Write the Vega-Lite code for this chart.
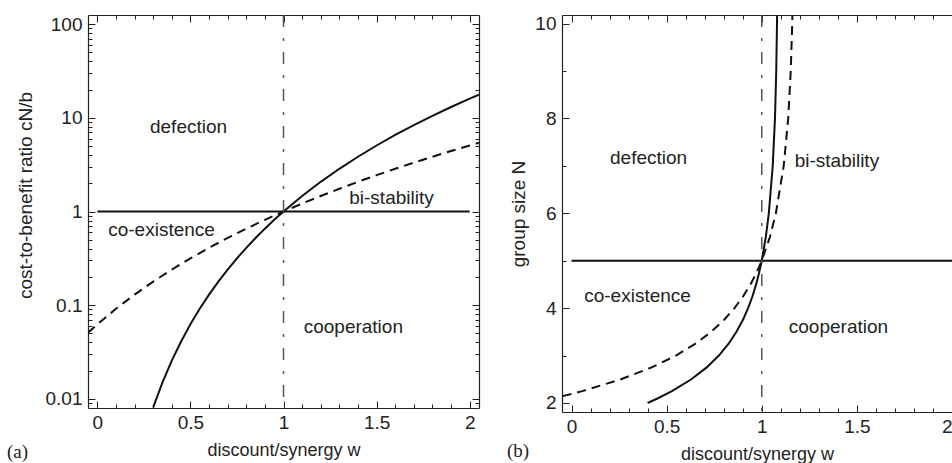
{
  "$schema": "https://vega.github.io/schema/vega-lite/v6.json",
  "padding": {"left": 7, "top": 14, "right": 0, "bottom": 0},
  "spacing": 27,
  "config": {
    "view": {"stroke": null},
    "font": "Liberation Sans",
    "axis": {"grid": false, "labelFont": "Liberation Sans", "labelFontSize": 19, "titleFont": "Liberation Sans", "titleFontSize": 18, "titleFontWeight": "normal", "labelColor": "#222", "titleColor": "#222", "tickColor": "#222", "domainColor": "#222", "domainWidth": 1.2, "tickWidth": 1}
  },
  "datasets": {
    "a_solid": [
      {"w": 0.3, "r": 0.0081}, {"w": 0.35, "r": 0.015}, {"w": 0.4, "r": 0.0256}, {"w": 0.45, "r": 0.041}, {"w": 0.5, "r": 0.0625}, {"w": 0.55, "r": 0.0915}, {"w": 0.6, "r": 0.1296}, {"w": 0.65, "r": 0.1785}, {"w": 0.7, "r": 0.2401}, {"w": 0.75, "r": 0.3164}, {"w": 0.8, "r": 0.4096}, {"w": 0.85, "r": 0.522}, {"w": 0.9, "r": 0.6561}, {"w": 0.95, "r": 0.8145}, {"w": 1.0, "r": 1}, {"w": 1.1, "r": 1.4641}, {"w": 1.2, "r": 2.0736}, {"w": 1.3, "r": 2.8561}, {"w": 1.4, "r": 3.8416}, {"w": 1.5, "r": 5.0625}, {"w": 1.6, "r": 6.5536}, {"w": 1.7, "r": 8.3521}, {"w": 1.8, "r": 10.4976}, {"w": 1.9, "r": 13.0321}, {"w": 2.0, "r": 16}, {"w": 2.05, "r": 17.66}
    ],
    "a_dashed": [
      {"w": -0.05, "r": 0.0509}, {"w": 0, "r": 0.0625}, {"w": 0.1, "r": 0.0915}, {"w": 0.2, "r": 0.1296}, {"w": 0.3, "r": 0.1785}, {"w": 0.4, "r": 0.2401}, {"w": 0.5, "r": 0.3164}, {"w": 0.6, "r": 0.4096}, {"w": 0.7, "r": 0.522}, {"w": 0.8, "r": 0.6561}, {"w": 0.9, "r": 0.8145}, {"w": 1.0, "r": 1}, {"w": 1.1, "r": 1.2155}, {"w": 1.2, "r": 1.4641}, {"w": 1.3, "r": 1.749}, {"w": 1.4, "r": 2.0736}, {"w": 1.5, "r": 2.4414}, {"w": 1.6, "r": 2.8561}, {"w": 1.7, "r": 3.3215}, {"w": 1.8, "r": 3.8416}, {"w": 1.9, "r": 4.4205}, {"w": 2.0, "r": 5.0625}, {"w": 2.05, "r": 5.4086}
    ],
    "a_hline": [{"w": 0, "w2": 2, "r": 1}],
    "a_vline": [{"w": 1}],
    "a_text": [
      {"w": 0.49, "r": 8.0, "label": "defection"},
      {"w": 1.58, "r": 1.41, "label": "bi-stability"},
      {"w": 0.345, "r": 0.64, "label": "co-existence"},
      {"w": 1.375, "r": 0.058, "label": "cooperation"}
    ],
    "b_solid": [
      {"N": 2, "w": 0.4}, {"N": 2.1, "w": 0.4544}, {"N": 2.25, "w": 0.5279}, {"N": 2.5, "w": 0.63}, {"N": 2.75, "w": 0.7106}, {"N": 3, "w": 0.7746}, {"N": 3.25, "w": 0.8257}, {"N": 3.5, "w": 0.867}, {"N": 3.75, "w": 0.9007}, {"N": 4, "w": 0.9283}, {"N": 4.25, "w": 0.9512}, {"N": 4.5, "w": 0.9703}, {"N": 4.75, "w": 0.9864}, {"N": 5, "w": 1}, {"N": 5.5, "w": 1.0214}, {"N": 6, "w": 1.0371}, {"N": 7, "w": 1.0577}, {"N": 8, "w": 1.0695}, {"N": 9, "w": 1.0762}, {"N": 10, "w": 1.0801}, {"N": 10.2, "w": 1.0806}
    ],
    "b_dashed": [
      {"N": 2, "w": -0.2}, {"N": 2.1, "w": -0.0912}, {"N": 2.2, "w": 0.009}, {"N": 2.25, "w": 0.0558}, {"N": 2.5, "w": 0.26}, {"N": 2.75, "w": 0.4212}, {"N": 3, "w": 0.5492}, {"N": 3.25, "w": 0.6514}, {"N": 3.5, "w": 0.734}, {"N": 3.75, "w": 0.8014}, {"N": 4, "w": 0.8566}, {"N": 4.25, "w": 0.9024}, {"N": 4.5, "w": 0.9406}, {"N": 4.75, "w": 0.9728}, {"N": 5, "w": 1}, {"N": 5.5, "w": 1.0428}, {"N": 6, "w": 1.0742}, {"N": 7, "w": 1.1154}, {"N": 8, "w": 1.139}, {"N": 9, "w": 1.1524}, {"N": 10, "w": 1.1602}, {"N": 10.2, "w": 1.1612}
    ],
    "b_hline": [{"w": 0, "w2": 2.05, "N": 5}],
    "b_vline": [{"w": 1}],
    "b_text": [
      {"w": 0.405, "N": 7.17, "label": "defection"},
      {"w": 1.395, "N": 7.1, "label": "bi-stability"},
      {"w": 0.347, "N": 4.26, "label": "co-existence"},
      {"w": 1.403, "N": 3.6, "label": "cooperation"}
    ]
  },
  "hconcat": [
    {
      "width": 391,
      "height": 393,
      "title": {"text": "(a)", "orient": "bottom", "anchor": "start", "frame": "group", "dx": -81, "offset": -16, "font": "Liberation Serif", "fontSize": 19, "fontWeight": "normal", "color": "#222"},
      "resolve": {"axis": {"x": "independent", "y": "independent"}},
      "layer": [
        {
          "data": {"name": "a_solid"},
          "mark": {"type": "line", "color": "#111", "strokeWidth": 2, "clip": true},
          "encoding": {
            "x": {"field": "w", "type": "quantitative", "scale": {"domain": [-0.05, 2.05], "nice": false, "zero": false},
                  "axis": {"orient": "bottom", "values": [0, 0.5, 1, 1.5, 2], "format": "~g", "tickSize": -7, "labelPadding": 12, "title": "discount/synergy w", "titlePadding": 9, "domain": true}},
            "y": {"field": "r", "type": "quantitative", "scale": {"type": "log", "domain": [0.008, 125], "nice": false},
                  "axis": {"orient": "left", "values": [0.01, 0.1, 1, 10, 100], "format": "~g", "tickSize": -7, "labelPadding": 13, "title": "cost-to-benefit ratio cN/b", "titleFontSize": 19, "titleY": 180, "titlePadding": 10, "domain": true}}
          }
        },
        {
          "data": {"name": "a_dashed"},
          "mark": {"type": "line", "color": "#111", "strokeWidth": 2, "strokeDash": [9, 6], "clip": true},
          "encoding": {
            "x": {"field": "w", "type": "quantitative", "axis": {"orient": "top", "values": [0, 0.5, 1, 1.5, 2], "tickSize": -7, "labels": false, "title": null, "domain": true}},
            "y": {"field": "r", "type": "quantitative", "axis": {"orient": "right", "values": [0.01, 0.1, 1, 10, 100], "tickSize": -7, "labels": false, "title": null, "domain": true}}
          }
        },
        {
          "data": {"name": "a_hline"},
          "mark": {"type": "rule", "color": "#111", "strokeWidth": 2},
          "encoding": {
            "x": {"field": "w", "type": "quantitative", "axis": {"orient": "bottom", "values": [0, 0.1, 0.2, 0.3, 0.4, 0.5, 0.6, 0.7, 0.8, 0.9, 1, 1.1, 1.2, 1.3, 1.4, 1.5, 1.6, 1.7, 1.8, 1.9, 2], "tickSize": -4, "labels": false, "title": null, "domain": false}},
            "x2": {"field": "w2"},
            "y": {"field": "r", "type": "quantitative", "axis": {"orient": "left", "values": [0.009, 0.02, 0.03, 0.04, 0.05, 0.06, 0.07, 0.08, 0.09, 0.2, 0.3, 0.4, 0.5, 0.6, 0.7, 0.8, 0.9, 2, 3, 4, 5, 6, 7, 8, 9, 20, 30, 40, 50, 60, 70, 80, 90], "tickSize": -4, "labels": false, "title": null, "domain": false}}
          }
        },
        {
          "data": {"name": "a_vline"},
          "mark": {"type": "rule", "color": "#555", "strokeWidth": 1.5, "strokeDash": [12, 11, 3, 11]},
          "encoding": {
            "x": {"field": "w", "type": "quantitative", "axis": {"orient": "top", "values": [0, 0.1, 0.2, 0.3, 0.4, 0.5, 0.6, 0.7, 0.8, 0.9, 1, 1.1, 1.2, 1.3, 1.4, 1.5, 1.6, 1.7, 1.8, 1.9, 2], "tickSize": -4, "labels": false, "title": null, "domain": false}}
          }
        },
        {
          "data": {"name": "a_text"},
          "mark": {"type": "text", "font": "Liberation Sans", "fontSize": 19, "color": "#222", "align": "center", "baseline": "middle"},
          "encoding": {
            "x": {"field": "w", "type": "quantitative", "axis": null},
            "y": {"field": "r", "type": "quantitative", "axis": {"orient": "right", "values": [0.009, 0.02, 0.03, 0.04, 0.05, 0.06, 0.07, 0.08, 0.09, 0.2, 0.3, 0.4, 0.5, 0.6, 0.7, 0.8, 0.9, 2, 3, 4, 5, 6, 7, 8, 9, 20, 30, 40, 50, 60, 70, 80, 90], "tickSize": -4, "labels": false, "title": null, "domain": false}},
            "text": {"field": "label"}
          }
        }
      ]
    },
    {
      "width": 390,
      "height": 397,
      "title": {"text": "(b)", "orient": "bottom", "anchor": "start", "frame": "group", "dx": -55, "offset": -21, "font": "Liberation Serif", "fontSize": 19, "fontWeight": "normal", "color": "#222"},
      "resolve": {"axis": {"x": "independent", "y": "independent"}},
      "layer": [
        {
          "data": {"name": "b_solid"},
          "mark": {"type": "line", "color": "#111", "strokeWidth": 2, "clip": true},
          "encoding": {
            "x": {"field": "w", "type": "quantitative", "scale": {"domain": [-0.05, 2.0], "nice": false, "zero": false},
                  "axis": {"orient": "bottom", "values": [0, 0.5, 1, 1.5, 2], "format": "~g", "tickSize": -7, "labelPadding": 12, "labelFlush": true, "title": "discount/synergy w", "titlePadding": 9, "domain": true}},
            "y": {"field": "N", "type": "quantitative", "scale": {"domain": [1.81, 10.18], "nice": false, "zero": false},
                  "axis": {"orient": "left", "values": [2, 4, 6, 8, 10], "tickSize": -7, "labelPadding": 13, "title": "group size N", "titleFontSize": 19, "titlePadding": 6, "domain": true}},
            "order": {"field": "N", "type": "quantitative"}
          }
        },
        {
          "data": {"name": "b_dashed"},
          "mark": {"type": "line", "color": "#111", "strokeWidth": 2, "strokeDash": [9, 6], "clip": true},
          "encoding": {
            "x": {"field": "w", "type": "quantitative", "axis": {"orient": "top", "values": [0, 0.5, 1, 1.5, 2], "tickSize": -7, "labels": false, "title": null, "domain": true}},
            "y": {"field": "N", "type": "quantitative", "axis": null},
            "order": {"field": "N", "type": "quantitative"}
          }
        },
        {
          "data": {"name": "b_hline"},
          "mark": {"type": "rule", "color": "#111", "strokeWidth": 2, "clip": true},
          "encoding": {
            "x": {"field": "w", "type": "quantitative", "axis": {"orient": "bottom", "values": [0, 0.1, 0.2, 0.3, 0.4, 0.5, 0.6, 0.7, 0.8, 0.9, 1, 1.1, 1.2, 1.3, 1.4, 1.5, 1.6, 1.7, 1.8, 1.9, 2], "tickSize": -4, "labels": false, "title": null, "domain": false}},
            "x2": {"field": "w2"},
            "y": {"field": "N", "type": "quantitative", "axis": {"orient": "left", "values": [2, 3, 4, 5, 6, 7, 8, 9, 10], "tickSize": -4, "labels": false, "title": null, "domain": false}}
          }
        },
        {
          "data": {"name": "b_vline"},
          "mark": {"type": "rule", "color": "#555", "strokeWidth": 1.5, "strokeDash": [12, 11, 3, 11]},
          "encoding": {
            "x": {"field": "w", "type": "quantitative", "axis": {"orient": "top", "values": [0, 0.1, 0.2, 0.3, 0.4, 0.5, 0.6, 0.7, 0.8, 0.9, 1, 1.1, 1.2, 1.3, 1.4, 1.5, 1.6, 1.7, 1.8, 1.9, 2], "tickSize": -4, "labels": false, "title": null, "domain": false}}
          }
        },
        {
          "data": {"name": "b_text"},
          "mark": {"type": "text", "font": "Liberation Sans", "fontSize": 19, "color": "#222", "align": "center", "baseline": "middle"},
          "encoding": {
            "x": {"field": "w", "type": "quantitative", "axis": null},
            "y": {"field": "N", "type": "quantitative", "axis": null},
            "text": {"field": "label"}
          }
        }
      ]
    }
  ]
}
